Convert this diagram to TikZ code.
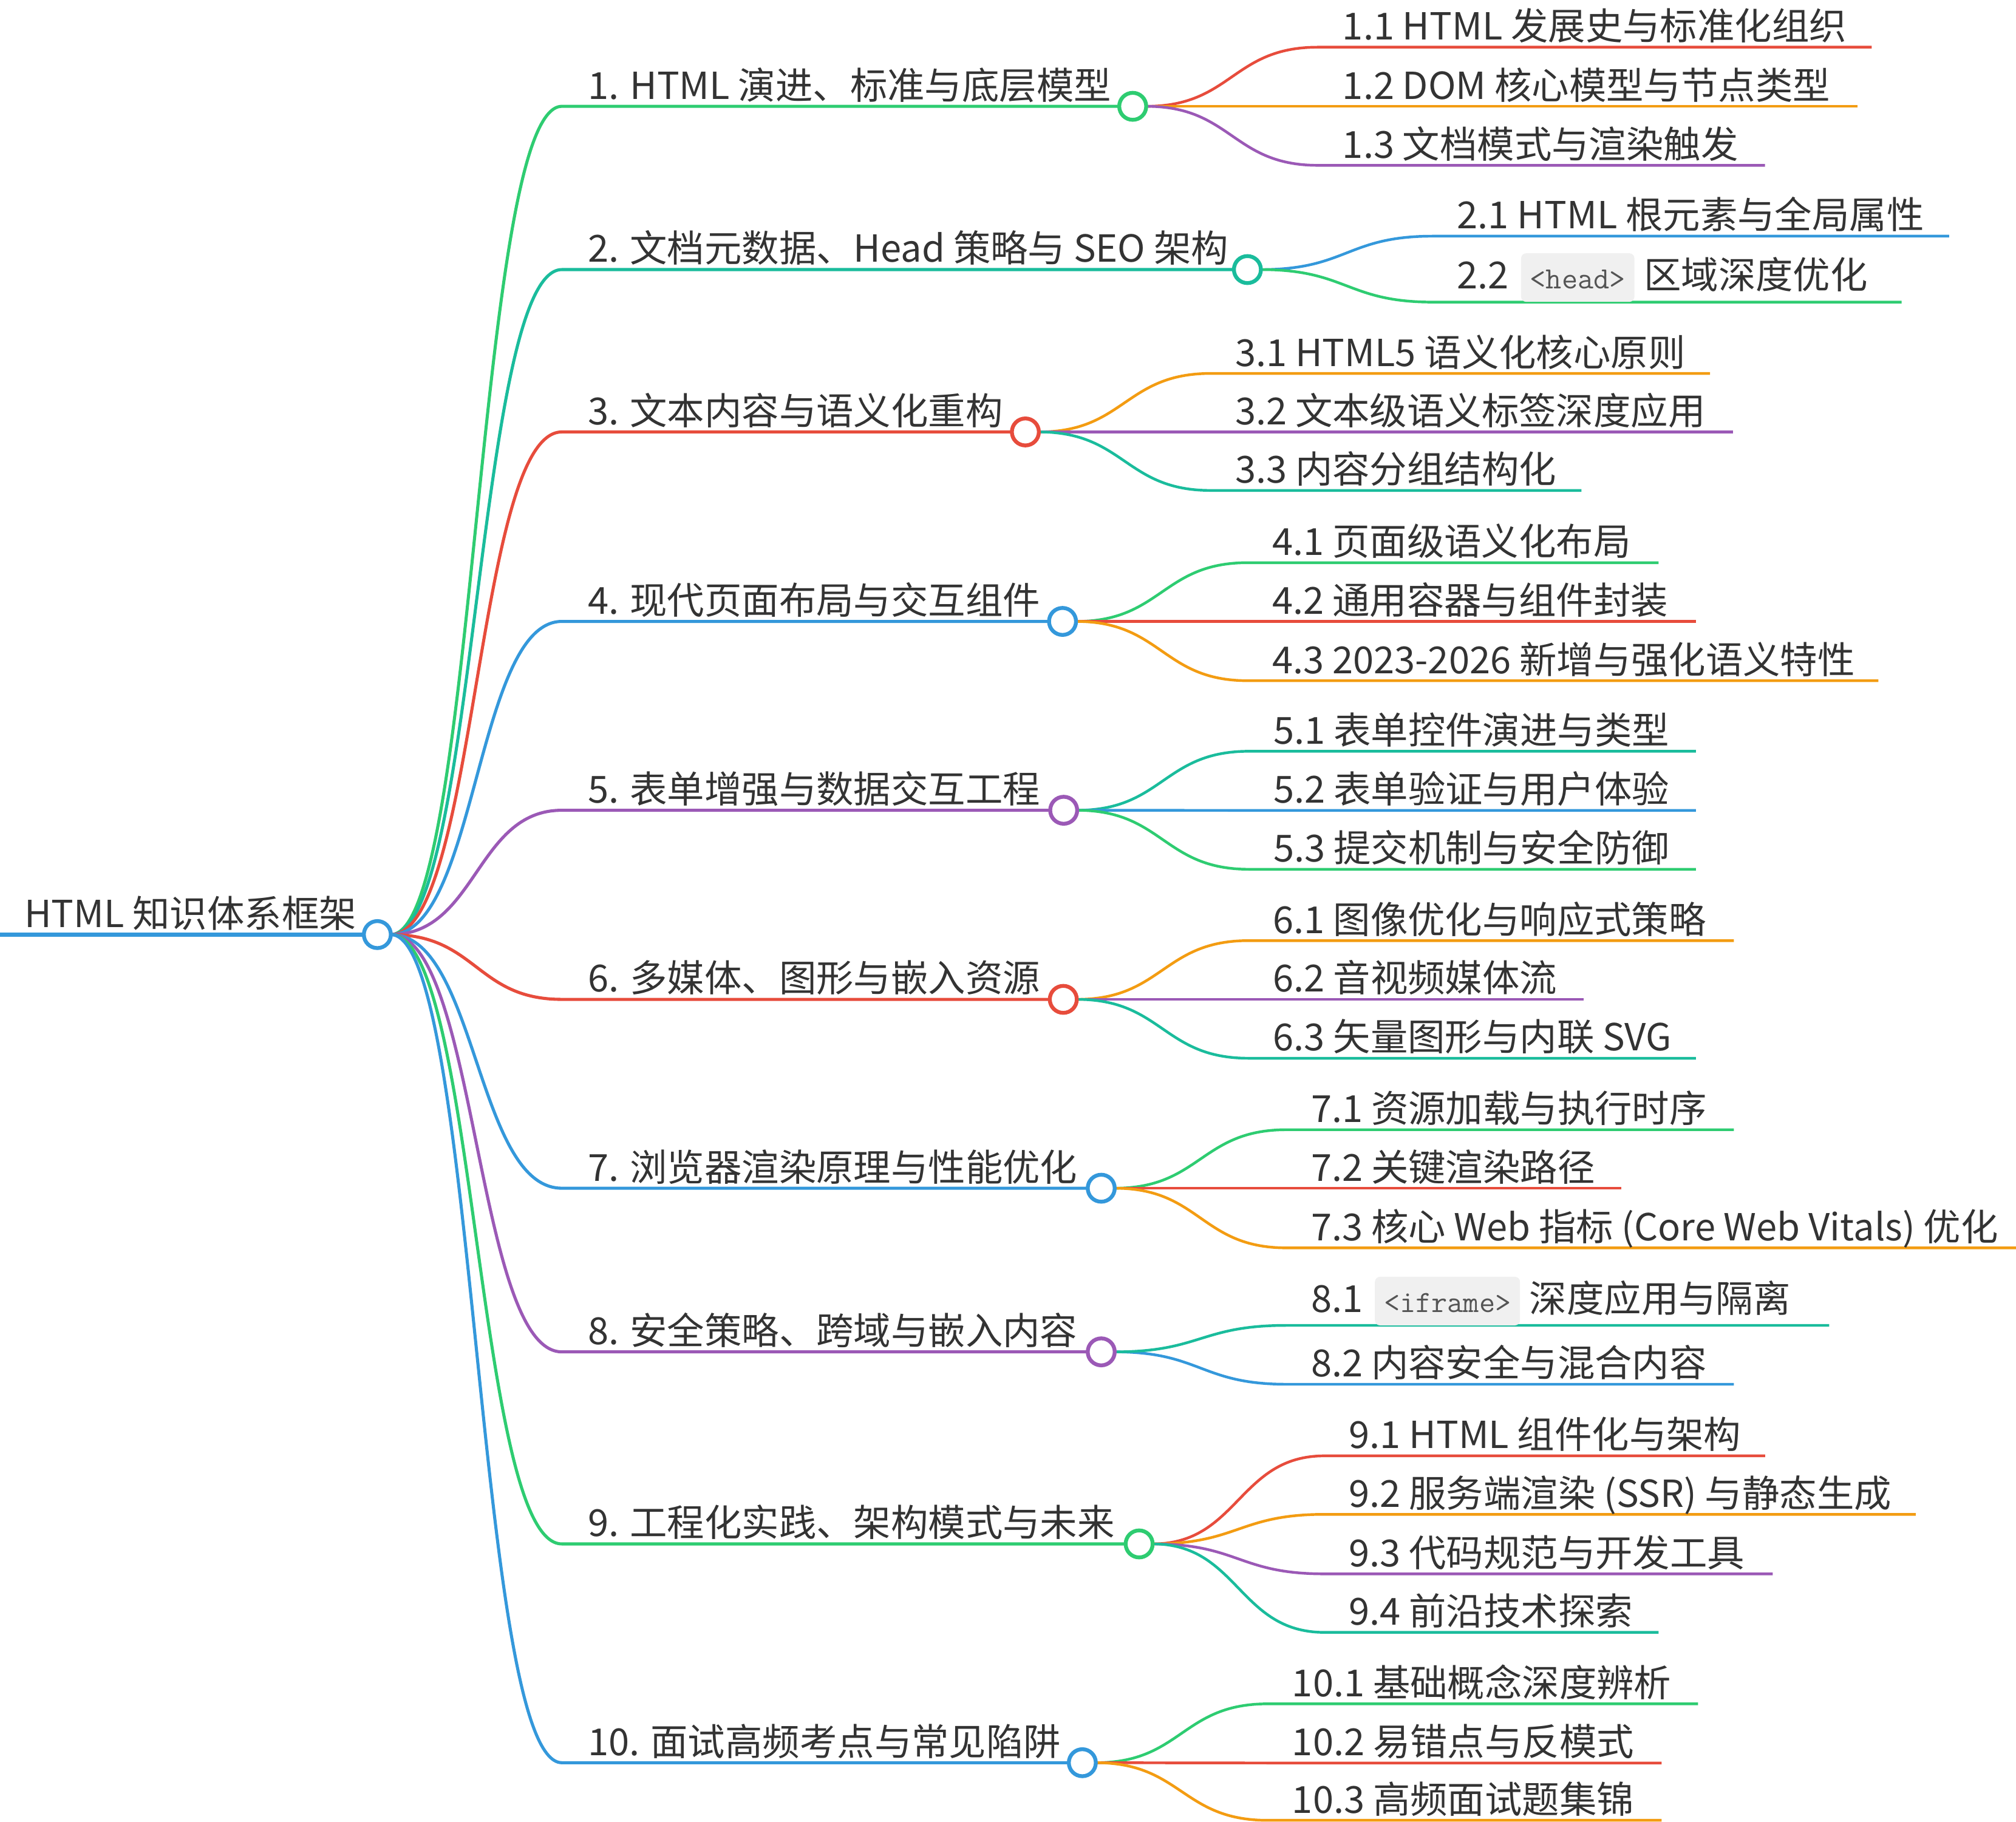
\documentclass[tikz,border=0pt]{standalone}
\usepackage{fontspec}
\setmainfont{Noto Sans CJK SC}
\usetikzlibrary{calc,backgrounds}
\definecolor{cg}{HTML}{2ECC71}
\definecolor{ct}{HTML}{1ABC9C}
\definecolor{cr}{HTML}{E74C3C}
\definecolor{cb}{HTML}{3498DB}
\definecolor{cp}{HTML}{9B59B6}
\definecolor{co}{HTML}{F39C12}
\definecolor{tc}{HTML}{333333}
\definecolor{codebg}{HTML}{F0F0F0}
\definecolor{codetx}{HTML}{555555}
\begin{document}
\begin{tikzpicture}[x=1pt,y=-1pt,
  txt/.style={anchor=base west, inner sep=0pt, text=tc, font=\fontsize{29}{34}\selectfont},
  dot/.style={circle, draw=#1, fill=white, line width=3pt, minimum size=21pt, inner sep=0pt, outer sep=0pt},
  lroot/.style={line width=3.5pt},
  lone/.style={line width=2.4pt},
  ltwo/.style={line width=2.1pt},
  mmcurve/.style={out=0, in=180, distance=66.75pt},
  code/.style={anchor=base west, fill=codebg, rounded corners=4pt, inner xsep=7pt, inner ysep=0pt,
    text height=27.6pt, text depth=10.2pt, text=codetx, font=\ttfamily\fontsize{24}{24}\selectfont}]
\useasboundingbox (0,0) rectangle (1568,1417);

% root
\node[dot=cb] (r) at (293.5,727) {};
\node[txt] (rt) at (18.7,721.4) {HTML 知识体系框架};
\coordinate (r0) at (0,727);
\begin{pgfonlayer}{background}
\draw[lroot,cb] (r0) -- (r.west);
\end{pgfonlayer}

% level 1
\foreach \i/\c/\x/\y/\t in {
  1/cg/881/82.7/{1. HTML 演进、标准与底层模型},
  2/ct/970.2/209.7/{2. 文档元数据、Head 策略与 SEO 架构},
  3/cr/797.5/336/{3. 文本内容与语义化重构},
  4/cb/826.4/483.4/{4. 现代页面布局与交互组件},
  5/cp/827.3/630.3/{5. 表单增强与数据交互工程},
  6/cr/827/777.4/{6. 多媒体、图形与嵌入资源},
  7/cb/856.5/924.3/{7. 浏览器渲染原理与性能优化},
  8/cp/856.5/1051.6/{8. 安全策略、跨域与嵌入内容},
  9/cg/886/1201/{9. 工程化实践、架构模式与未来},
  10/cb/841.8/1371.2/{10. 面试高频考点与常见陷阱}} {
  \node[dot=\c] (n\i) at (\x,\y) {};
  \coordinate (k\i) at (437,\y);
  \node[txt] (t\i) at (457,\y-5.7) {\t};
  \begin{pgfonlayer}{background}
  \draw[lone,\c] (r.east) to[mmcurve] (k\i) -- (n\i.west);
  \end{pgfonlayer}
}

% level 2
\foreach \p/\px/\c/\y/\e/\t [count=\k] in {
  1/881/cr/36.7/1455.7/{1.1 HTML 发展史与标准化组织},
  1/881/co/82.7/1444.5/{1.2 DOM 核心模型与节点类型},
  1/881/cp/128.6/1372.8/{1.3 文档模式与渲染触发},
  2/970.2/cb/183.7/1516/{2.1 HTML 根元素与全局属性},
  3/797.5/co/290.5/1330/{3.1 HTML5 语义化核心原则},
  3/797.5/cp/336/1348/{3.2 文本级语义标签深度应用},
  3/797.5/ct/381.5/1230/{3.3 内容分组结构化},
  4/826.4/cg/437.7/1290/{4.1 页面级语义化布局},
  4/826.4/cr/483.4/1319/{4.2 通用容器与组件封装},
  4/826.4/co/529.5/1461/{4.3 2023-2026 新增与强化语义特性},
  5/827.3/ct/584.4/1319/{5.1 表单控件演进与类型},
  5/827.3/cb/630.4/1319/{5.2 表单验证与用户体验},
  5/827.3/cg/676.2/1319/{5.3 提交机制与安全防御},
  6/827/co/731.7/1348.6/{6.1 图像优化与响应式策略},
  6/827/cp/777.4/1231.5/{6.2 音视频媒体流},
  6/827/ct/823.2/1319/{6.3 矢量图形与内联 SVG},
  7/856.5/cg/878.8/1348.6/{7.1 资源加载与执行时序},
  7/856.5/cr/924.3/1260.8/{7.2 关键渲染路径},
  7/856.5/co/970.7/1570/{7.3 核心 Web 指标 (Core Web Vitals) 优化},
  8/856.5/cb/1076.8/1348.6/{8.2 内容安全与混合内容},
  9/886/cr/1132.5/1372.9/{9.1 HTML 组件化与架构},
  9/886/co/1178/1490/{9.2 服务端渲染 (SSR) 与静态生成},
  9/886/cp/1224.3/1378.8/{9.3 代码规范与开发工具},
  9/886/ct/1269.8/1290/{9.4 前沿技术探索},
  10/841.8/cg/1325.4/1320.7/{10.1 基础概念深度辨析},
  10/841.8/cr/1371.4/1292.4/{10.2 易错点与反模式},
  10/841.8/co/1416/1292.4/{10.3 高频面试题集锦}} {
  \coordinate (a\k) at (\px+144,\y);
  \coordinate (z\k) at (\e,\y);
  \node[txt] (s\k) at (\px+163,\y-5.7) {\t};
  \begin{pgfonlayer}{background}
  \draw[ltwo,\c] (n\p.east) to[mmcurve] (a\k) -- (z\k);
  \end{pgfonlayer}
}

% 2.2 with code box
\coordinate (a22) at (970.2+144,235);
\coordinate (z22) at (1479,235);
\node[txt] (s22a) at (970.2+163,224.6) {2.2};
\node[code] (c22) at ($(s22a.base east)+(9,0)$) {<head>};
\node[txt] (s22b) at ($(c22.base east)+(7,0)$) {区域深度优化};
\begin{pgfonlayer}{background}
\draw[ltwo,cg] (n2.east) to[mmcurve] (a22) -- (z22);
\end{pgfonlayer}

% 8.1 with code box
\coordinate (a81) at (856.5+144,1031);
\coordinate (z81) at (1422.7,1031);
\node[txt] (s81a) at (856.5+163,1020.8) {8.1};
\node[code] (c81) at ($(s81a.base east)+(9,0)$) {<iframe>};
\node[txt] (s81b) at ($(c81.base east)+(7,0)$) {深度应用与隔离};
\begin{pgfonlayer}{background}
\draw[ltwo,ct] (n8.east) to[mmcurve] (a81) -- (z81);
\end{pgfonlayer}
\end{tikzpicture}
\end{document}
